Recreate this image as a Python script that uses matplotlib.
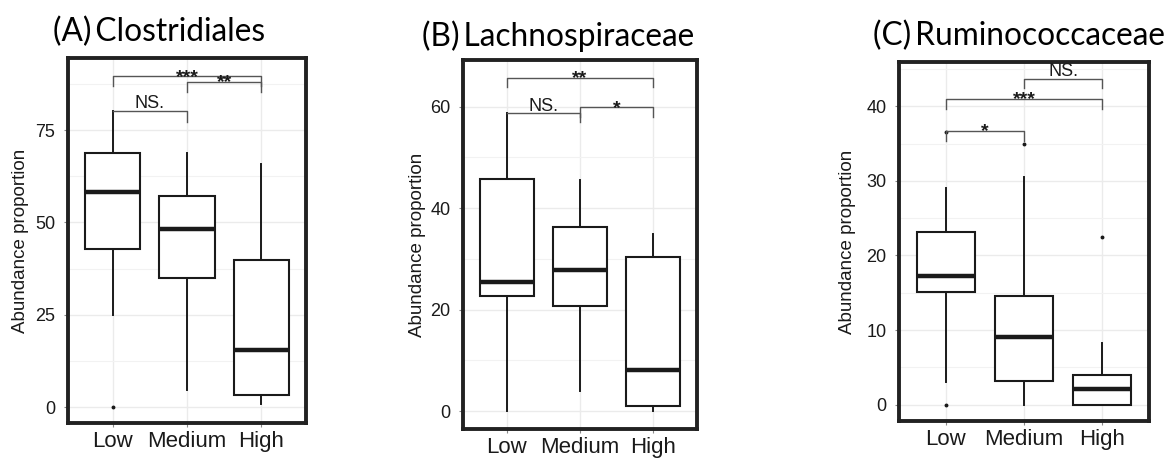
import matplotlib
matplotlib.use("Agg")
import matplotlib.pyplot as plt

plt.rcParams['font.family'] = ['Liberation Sans', 'DejaVu Sans']

categories = ["Low", "Medium", "High"]
titles = ["(A)\u2009Clostridiales", "(B)\u2009Lachnospiraceae", "(C)\u2009Ruminococcaceae"]
ylabel = "Abundance proportion"

# box stats per panel: [whislo, q1, med, q3, whishi] per category
clos_stats = [[24.8, 42.9, 58.3, 68.7, 80.1], [4.5, 35.0, 48.1, 57.1, 68.7], [0.9, 3.3, 15.4, 39.7, 65.9]]
clos_fliers = [[0.0], [], []]
lach_stats = [[0.0, 22.8, 25.4, 45.8, 58.7], [3.9, 20.8, 27.9, 36.2, 45.6], [0.0, 1.0, 8.2, 30.3, 34.9]]
lach_fliers = [[], [], []]
rumi_stats = [[3.0, 15.1, 17.3, 23.2, 29.0], [0.0, 3.1, 9.1, 14.5, 30.5], [0.0, 0.0, 2.1, 4.0, 8.3]]
rumi_fliers = [[36.6, 0.0], [34.9], [22.5]]

# significance brackets: (group i, group j, bracket y, leg bottom left, leg bottom right, label)
clos_sig = [(0, 1, 80.1, 80.1, 77.2, "NS."), (0, 2, 89.6, 86.9, 86.9, "***"), (1, 2, 88.1, 85.4, 85.4, "**")]
lach_sig = [(0, 1, 58.7, 58.7, 56.9, "NS."), (1, 2, 59.9, 58.0, 58.0, "*"), (0, 2, 65.7, 63.8, 63.8, "**")]
rumi_sig = [(0, 1, 36.7, 35.3, 35.3, "*"), (0, 2, 41.0, 39.7, 39.7, "***"), (1, 2, 43.7, 42.4, 42.4, "NS.")]

yticks = [[0, 25, 50, 75], [0, 20, 40, 60], [0, 10, 20, 30, 40]]
yminor = [[12.5, 37.5, 62.5, 87.5], [10, 30, 50], [5, 15, 25, 35, 45]]
ylims = [(-4.3, 94.5), (-3.5, 69.2), (-2.2, 45.95)]

W, H = 1171, 459
fig = plt.figure(figsize=(W / 100, H / 100), dpi=100)

# axes boxes in pixels: left, right, top, bottom
boxes = [(68, 306, 58, 423), (463, 697, 60, 429), (899, 1149, 62, 421)]
title_pos = [(53, 32), (422, 36), (873, 36)]
ylabel_x = [21, 417, 848]

panels = [(clos_stats, clos_fliers, clos_sig), (lach_stats, lach_fliers, lach_sig), (rumi_stats, rumi_fliers, rumi_sig)]

for k, (stats, fliers, sigs) in enumerate(panels):
    l, r, t, b = boxes[k]
    ax = fig.add_axes([l / W, (H - b) / H, (r - l) / W, (b - t) / H])
    bxp = []
    for (wl, q1, med, q3, wh), fl in zip(stats, fliers):
        bxp.append(dict(whislo=wl, q1=q1, med=med, q3=q3, whishi=wh, fliers=fl))
    positions = list(range(1, len(categories) + 1))
    ax.bxp(bxp, positions=positions, widths=0.74, showcaps=False, patch_artist=True,
           boxprops=dict(facecolor='white', edgecolor='#1a1a1a', linewidth=1.5),
           medianprops=dict(color='#1a1a1a', linewidth=3.2, solid_capstyle='butt'),
           whiskerprops=dict(color='#1a1a1a', linewidth=1.4),
           flierprops=dict(marker='o', markersize=1.8, markerfacecolor='#1a1a1a',
                           markeredgecolor='#1a1a1a'),
           zorder=3)
    ax.set_xlim(0.4, 3.6)
    ax.set_ylim(*ylims[k])
    ax.set_xticks(positions)
    ax.set_xticklabels(categories, fontsize=16)
    ax.set_yticks(yticks[k])
    ax.set_yticklabels([str(v) for v in yticks[k]], fontsize=13)
    ax.set_yticks(yminor[k], minor=True)
    ax.grid(True, which='major', color='#ebebeb', linewidth=1.0, zorder=0)
    ax.grid(True, which='minor', axis='y', color='#f2f2f2', linewidth=0.8, zorder=0)
    ax.set_axisbelow(True)
    ax.tick_params(axis='both', which='major', length=3, color='#888888', labelcolor='#1a1a1a', pad=6)
    ax.tick_params(axis='x', pad=3)
    ax.tick_params(which='minor', length=0)
    for s in ax.spines.values():
        s.set_linewidth(2.8)
        s.set_color('#222222')
    for (i, j, y, lb, rb, lab) in sigs:
        xi, xj = positions[i], positions[j]
        ax.plot([xi, xi, xj, xj], [lb, y, y, rb], color='#555555', linewidth=1.0, zorder=4)
        if lab.startswith('N'):
            ax.annotate(lab, xy=((xi + xj) / 2, y), xytext=(0, 2), textcoords='offset points',
                        ha='center', va='baseline', fontsize=13, color='#1a1a1a', zorder=5)
        else:
            ax.annotate(lab, xy=((xi + xj) / 2, y), xytext=(0, -4), textcoords='offset points',
                        ha='center', va='baseline', fontsize=14, fontweight='bold',
                        color='#1a1a1a', zorder=5)
    fig.text(ylabel_x[k] / W, (H - (t + b) / 2) / H, ylabel, rotation=90, ha='center', va='center',
             fontsize=13.5, color='#1a1a1a')
    tx, ty = title_pos[k]
    fig.text(tx / W, (H - ty) / H, titles[k], ha='left', va='center', fontsize=22.8,
             family=['Lato', 'DejaVu Sans'], color='black')

fig.savefig("out.png", dpi=100, facecolor='white')
